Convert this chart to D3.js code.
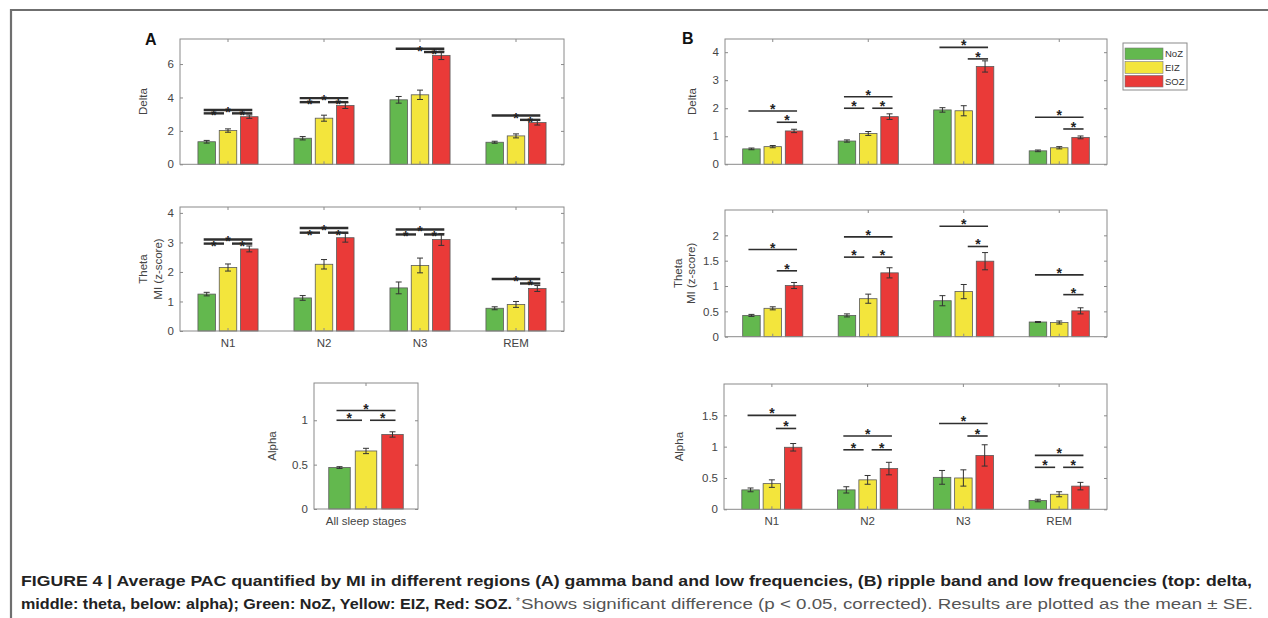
<!DOCTYPE html>
<html><head><meta charset="utf-8">
<script src="https://cdn.jsdelivr.net/npm/d3@7"></script>
<style>
html,body{margin:0;padding:0;background:#fff;}
svg{display:block;}
text{font-family:"Liberation Sans",Arial,sans-serif;}
</style></head>
<body>
<script>
// ---------------- DATA ----------------
const categories = ["N1","N2","N3","REM"];
const series = ["NoZ","EIZ","SOZ"];
const seriesColors = ["#63b84e","#f3e53c","#ea3a38"];

// Panel A (gamma band) — means and SE per stage [NoZ, EIZ, SOZ]
const A_delta_mean = [[1.35,2.02,2.85],[1.56,2.76,3.52],[3.86,4.16,6.52],[1.32,1.70,2.50]];
const A_delta_se   = [[0.08,0.10,0.10],[0.10,0.18,0.18],[0.20,0.28,0.25],[0.06,0.12,0.15]];
const A_theta_mean = [[1.25,2.15,2.78],[1.12,2.26,3.16],[1.46,2.22,3.10],[0.77,0.90,1.44]];
const A_theta_se   = [[0.06,0.12,0.10],[0.08,0.16,0.15],[0.20,0.25,0.20],[0.05,0.10,0.10]];
const A_alpha_cat  = ["All sleep stages"];
const A_alpha_mean = [[0.467,0.654,0.84]];
const A_alpha_se   = [[0.01,0.03,0.03]];

// Panel B (ripple band)
const B_delta_mean = [[0.55,0.63,1.19],[0.83,1.10,1.70],[1.94,1.91,3.49],[0.48,0.59,0.96]];
const B_delta_se   = [[0.03,0.04,0.06],[0.04,0.07,0.10],[0.08,0.18,0.20],[0.03,0.04,0.05]];
const B_theta_mean = [[0.42,0.56,1.01],[0.42,0.75,1.26],[0.71,0.89,1.49],[0.29,0.28,0.51]];
const B_theta_se   = [[0.02,0.03,0.06],[0.03,0.09,0.10],[0.10,0.14,0.17],[0.01,0.03,0.06]];
const B_alpha_mean = [[0.31,0.41,0.99],[0.31,0.47,0.65],[0.51,0.50,0.86],[0.14,0.24,0.37]];
const B_alpha_se   = [[0.03,0.06,0.06],[0.05,0.07,0.10],[0.11,0.13,0.17],[0.02,0.04,0.06]];

// Significance brackets: [group index, pair ("GR" long, "GY", "YR"), level]
const A_delta_sig = [[0,"GR",3.25],[0,"GY",3.05],[0,"YR",3.05],[1,"GR",3.96],[1,"GY",3.72],[1,"YR",3.72],[2,"GR",6.92],[2,"YR",6.72],[3,"GR",2.92],[3,"YR",2.66]];
const A_theta_sig = [[0,"GR",3.10],[0,"GY",2.96],[0,"YR",2.96],[1,"GR",3.49],[1,"GY",3.33],[1,"YR",3.33],[2,"GR",3.44],[2,"GY",3.27],[2,"YR",3.27],[3,"GR",1.76],[3,"YR",1.61]];
const A_alpha_sig = [[0,"GR",1.11],[0,"GY",1.0],[0,"YR",1.0]];
const B_delta_sig = [[0,"GR",1.90],[0,"YR",1.50],[1,"GR",2.41],[1,"GY",2.00],[1,"YR",2.00],[2,"GR",4.17],[2,"YR",3.76],[3,"GR",1.68],[3,"YR",1.26]];
const B_theta_sig = [[0,"GR",1.72],[0,"YR",1.30],[1,"GR",1.97],[1,"GY",1.57],[1,"YR",1.57],[2,"GR",2.18],[2,"YR",1.78],[3,"GR",1.22],[3,"YR",0.83]];
const B_alpha_sig = [[0,"GR",1.50],[0,"YR",1.29],[1,"GR",1.17],[1,"GY",0.95],[1,"YR",0.95],[2,"GR",1.37],[2,"YR",1.17],[3,"GR",0.86],[3,"GY",0.67],[3,"YR",0.67]];

// Tick values
const A_delta_ticks = [0,2,4,6];
const A_theta_ticks = [0,1,2,3,4];
const A_alpha_ticks = [0,0.5,1];
const B_delta_ticks = [0,1,2,3,4];
const B_theta_ticks = [0,0.5,1,1.5,2];
const B_alpha_ticks = [0,0.5,1,1.5];

const captionLine1 = "FIGURE 4 | Average PAC quantified by MI in different regions (A) gamma band and low frequencies, (B) ripple band and low frequencies (top: delta,";
const captionLine2a = "middle: theta, below: alpha); Green: NoZ, Yellow: EIZ, Red: SOZ.";
const captionLine2b = " Shows significant difference (p < 0.05, corrected). Results are plotted as the mean ± SE.";

// ---------------- DRAW ----------------
const W = 1268, H = 618;
const svg = d3.select("body").append("svg").attr("width", W).attr("height", H);
svg.append("rect").attr("width", W).attr("height", H).attr("fill", "#fff");

// outer frame
svg.append("path").attr("d", "M11,620 L11,10 L1270,10").attr("fill","none").attr("stroke","#6f6f6f").attr("stroke-width",2.2);

function panel(cfg) {
  const g = svg.append("g");
  const x = d3.scaleBand().domain(cfg.cats).range([cfg.x0, cfg.x1]);
  const bw = x.bandwidth();
  const sx = d3.scalePoint().domain(series).range([bw/2 - cfg.pitch, bw/2 + cfg.pitch]);
  const y = d3.scaleLinear().domain([0, cfg.ymax]).range([cfg.yb, cfg.yt]);
  const barW = cfg.barW;

  // bars
  cfg.cats.forEach((c, ci) => {
    series.forEach((s, si) => {
      const v = cfg.mean[ci][si], e = cfg.se[ci][si];
      const cx = x(c) + sx(s);
      g.append("rect").attr("x", cx - barW/2).attr("y", y(v)).attr("width", barW).attr("height", y(0) - y(v))
        .attr("fill", seriesColors[si]).attr("stroke", "#5a5a5a").attr("stroke-width", 0.8);
      const eb = g.append("g").attr("stroke", "#333").attr("stroke-width", 1);
      eb.append("line").attr("x1", cx).attr("x2", cx).attr("y1", y(v - e)).attr("y2", y(v + e));
      eb.append("line").attr("x1", cx - 3).attr("x2", cx + 3).attr("y1", y(v - e)).attr("y2", y(v - e));
      eb.append("line").attr("x1", cx - 3).attr("x2", cx + 3).attr("y1", y(v + e)).attr("y2", y(v + e));
    });
  });

  // axes box
  const box = g.append("g");
  box.append("rect").attr("x", cfg.x0).attr("y", cfg.yt).attr("width", cfg.x1 - cfg.x0).attr("height", cfg.yb - cfg.yt)
    .attr("fill", "none").attr("stroke", "#8a8a8a").attr("stroke-width", 1);

  // left axis via d3.axisLeft
  const yAxis = d3.axisLeft(y).tickValues(cfg.ticks).tickSize(-3).tickPadding(6).tickFormat(d3.format("~g"));
  const ya = g.append("g").attr("transform", `translate(${cfg.x0},0)`).call(yAxis);
  ya.select(".domain").remove();
  ya.selectAll(".tick line").attr("stroke", "#8a8a8a");
  ya.selectAll(".tick text").attr("fill", "#444").attr("font-size", 11.5).attr("font-family", "Liberation Sans, Arial, sans-serif");
  // right mirror ticks
  const yr = g.append("g").attr("transform", `translate(${cfg.x1},0)`).call(d3.axisRight(y).tickValues(cfg.ticks).tickSize(-3).tickFormat(""));
  yr.select(".domain").remove();
  yr.selectAll(".tick line").attr("stroke", "#8a8a8a");

  // bottom axis
  const xAxis = d3.axisBottom(x).tickSize(-3).tickPadding(cfg.showX ? 8 : 0).tickFormat(cfg.showX ? (d => d) : "");
  const xa = g.append("g").attr("transform", `translate(0,${cfg.yb})`).call(xAxis);
  xa.select(".domain").remove();
  xa.selectAll(".tick line").attr("stroke", "#8a8a8a");
  xa.selectAll(".tick text").attr("fill", "#444").attr("font-size", 11.5).attr("font-family", "Liberation Sans, Arial, sans-serif");
  const xt = g.append("g").attr("transform", `translate(0,${cfg.yt})`).call(d3.axisTop(x).tickSize(-3).tickFormat(""));
  xt.select(".domain").remove();
  xt.selectAll(".tick line").attr("stroke", "#8a8a8a");

  // significance
  cfg.sig.forEach(([gi, pair, lev]) => {
    const c = cfg.cats[gi];
    const cG = x(c) + sx("NoZ"), cY = x(c) + sx("EIZ"), cR = x(c) + sx("SOZ");
    let xa1, xa2;
    if (pair === "GR") { xa1 = cG - 3; xa2 = cR + 3; }
    else if (pair === "GY") { xa1 = cG - 3; xa2 = cY - 4; }
    else { xa1 = cY + 4; xa2 = cR + 3; }
    const yy = y(lev);
    g.append("line").attr("x1", xa1).attr("x2", xa2).attr("y1", yy).attr("y2", yy)
      .attr("stroke", "#2e2e2e").attr("stroke-width", cfg.sigW);
    g.append("text").attr("x", (xa1 + xa2) / 2).attr("y", yy - cfg.starOff + 9)
      .attr("text-anchor", "middle").attr("font-size", 14).attr("font-weight", "bold").attr("fill", "#222").text("*");
  });

  // y label(s)
  cfg.ylabels.forEach(([txt, lx]) => {
    g.append("text").attr("transform", `translate(${lx},${(cfg.yt + cfg.yb) / 2}) rotate(-90)`)
      .attr("text-anchor", "middle").attr("dominant-baseline", "central").attr("font-size", 11.5).attr("fill", "#444").text(txt);
  });
}

panel({cats: categories, x0: 180, x1: 564, yt: 39, yb: 164.3, ymax: 7.5, ticks: A_delta_ticks, mean: A_delta_mean, se: A_delta_se, sig: A_delta_sig, pitch: 21.3, barW: 17.5, showX: false, sigW: 2.4, starOff: 2, ylabels: [["Delta", 143]]});
panel({cats: categories, x0: 180, x1: 564, yt: 207, yb: 331, ymax: 4.2, ticks: A_theta_ticks, mean: A_theta_mean, se: A_theta_se, sig: A_theta_sig, pitch: 21.3, barW: 17.5, showX: true, sigW: 2.4, starOff: 2, ylabels: [["Theta", 143], ["MI (z-score)", 158]]});
panel({cats: A_alpha_cat, x0: 314, x1: 418, yt: 383, yb: 509, ymax: 1.42, ticks: A_alpha_ticks, mean: A_alpha_mean, se: A_alpha_se, sig: A_alpha_sig, pitch: 26.5, barW: 21.5, showX: true, sigW: 1.6, starOff: 6, ylabels: [["Alpha", 272]]});
panel({cats: categories, x0: 725, x1: 1107, yt: 39, yb: 164.3, ymax: 4.47, ticks: B_delta_ticks, mean: B_delta_mean, se: B_delta_se, sig: B_delta_sig, pitch: 21.3, barW: 17.5, showX: false, sigW: 1.6, starOff: 6, ylabels: [["Delta", 692]]});
panel({cats: categories, x0: 725, x1: 1107, yt: 210, yb: 336.7, ymax: 2.5, ticks: B_theta_ticks, mean: B_theta_mean, se: B_theta_se, sig: B_theta_sig, pitch: 21.3, barW: 17.5, showX: false, sigW: 1.6, starOff: 6, ylabels: [["Theta", 678], ["MI (z-score)", 691]]});
panel({cats: categories, x0: 724, x1: 1107, yt: 384, yb: 509.3, ymax: 2.0, ticks: B_alpha_ticks, mean: B_alpha_mean, se: B_alpha_se, sig: B_alpha_sig, pitch: 21.3, barW: 17.5, showX: true, sigW: 1.6, starOff: 6, ylabels: [["Alpha", 679]]});

// panel letters
svg.append("text").attr("x", 145).attr("y", 45).attr("font-size", 16).attr("font-weight", "bold").attr("fill", "#111").text("A");
svg.append("text").attr("x", 682).attr("y", 44).attr("font-size", 16).attr("font-weight", "bold").attr("fill", "#111").text("B");

// legend
const lg = svg.append("g");
lg.append("rect").attr("x", 1123).attr("y", 43).attr("width", 64).attr("height", 47).attr("fill", "#fff").attr("stroke", "#8a8a8a").attr("stroke-width", 1);
const legY = d3.scaleBand().domain(series).range([47, 88]);
series.forEach((s, i) => {
  lg.append("rect").attr("x", 1125).attr("y", legY(s) + 1).attr("width", 38).attr("height", legY.bandwidth() - 2).attr("fill", seriesColors[i]).attr("stroke", "#777").attr("stroke-width", 0.6);
  lg.append("text").attr("x", 1165).attr("y", legY(s) + legY.bandwidth() / 2).attr("dominant-baseline", "central").attr("font-size", 9.5).attr("fill", "#333").text(s);
});

// caption
const cap = svg.append("g").attr("font-family", "Liberation Sans Narrow, Liberation Sans, Arial, sans-serif").attr("font-size", 14);
cap.append("text").attr("x", 21).attr("y", 586).attr("font-weight", "bold").attr("fill", "#222")
  .attr("textLength", 1231).attr("lengthAdjust", "spacingAndGlyphs").text(captionLine1);
cap.append("text").attr("x", 21).attr("y", 609).attr("font-weight", "bold").attr("fill", "#222")
  .attr("textLength", 491).attr("lengthAdjust", "spacingAndGlyphs").text(captionLine2a);
cap.append("text").attr("x", 516).attr("y", 605).attr("font-size", 10).attr("fill", "#666").text("*");
cap.append("text").attr("x", 521).attr("y", 609).attr("fill", "#555")
  .attr("textLength", 732).attr("lengthAdjust", "spacingAndGlyphs").text(captionLine2b);
</script>
</body></html>
